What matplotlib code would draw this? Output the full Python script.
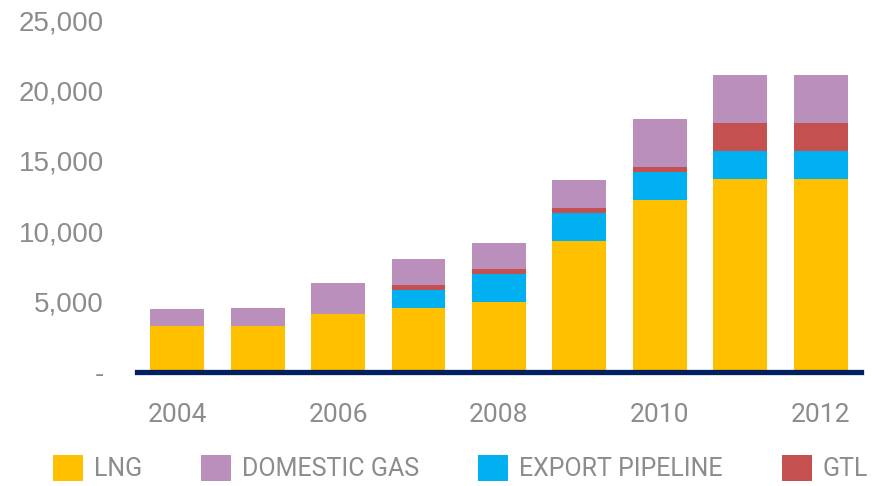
import numpy as np
import matplotlib.pyplot as plt
from matplotlib.ticker import FuncFormatter

years = [2004, 2005, 2006, 2007, 2008, 2009, 2010, 2011, 2012]
year_labels = ["2004", "", "2006", "", "2008", "", "2010", "", "2012"]
lng = [3270, 3270, 4120, 4520, 4970, 9330, 12220, 13710, 13710]
export_pipeline = [0, 0, 0, 1280, 1970, 1980, 2010, 1990, 1990]
gtl = [0, 0, 0, 360, 350, 360, 330, 2010, 2010]
domestic_gas = [1180, 1300, 2180, 1870, 1850, 1970, 3410, 3380, 3380]

grey = "#8c8c8c"
narrow = ["Roboto", "DejaVu Sans"]


def fmt(v, pos):
    if v == 0:
        return "-"
    return f"{int(v):,}"


def plot_chart():
    fig = plt.figure(figsize=(8.74, 4.86), dpi=100)
    ax = fig.add_axes([0.1568, 0.2346, 0.8282, 0.7242])
    x = np.arange(len(years))
    w = 0.67

    bottom = np.zeros(len(years))
    series = [
        ("LNG", lng, "#ffc000"),
        ("EXPORT PIPELINE", export_pipeline, "#00b0f0"),
        ("GTL", gtl, "#c55050"),
        ("DOMESTIC GAS", domestic_gas, "#bb8fbc"),
    ]
    handles = {}
    for name, vals, col in series:
        vals = np.array(vals)
        b = ax.bar(x, vals, w, bottom=bottom, color=col, label=name, zorder=2)
        handles[name] = b
        bottom += vals

    ax.set_xlim(-0.5, 8.5)
    ax.set_ylim(0, 25000)
    ax.set_yticks(range(0, 25001, 5000))
    ax.yaxis.set_major_formatter(FuncFormatter(fmt))
    ax.set_xticks(x)
    ax.set_xticklabels(year_labels, family=narrow, fontsize=19, color=grey)
    for lab in ax.get_yticklabels():
        lab.set_family(["Liberation Sans", "DejaVu Sans"])
        lab.set_fontsize(20)
        lab.set_color(grey)
    ax.tick_params(axis="both", length=0)
    ax.tick_params(axis="y", pad=24)
    ax.tick_params(axis="x", pad=22)

    for s in ["top", "right", "left"]:
        ax.spines[s].set_visible(False)
    ax.spines["bottom"].set_color("#002060")
    ax.spines["bottom"].set_linewidth(3.8)
    ax.spines["bottom"].set_zorder(3)

    order = ["LNG", "DOMESTIC GAS", "EXPORT PIPELINE", "GTL"]
    leg = fig.legend([handles[n] for n in order], order, loc="center",
                     bbox_to_anchor=(0.527, 0.037), ncol=4, frameon=False,
                     handlelength=1.2, handleheight=1.2, handletextpad=0.45,
                     columnspacing=2.35, prop={"family": narrow, "size": 18})
    for t in leg.get_texts():
        t.set_color(grey)

    fig.savefig("out.png", dpi=100)


if __name__ == "__main__":
    plot_chart()
